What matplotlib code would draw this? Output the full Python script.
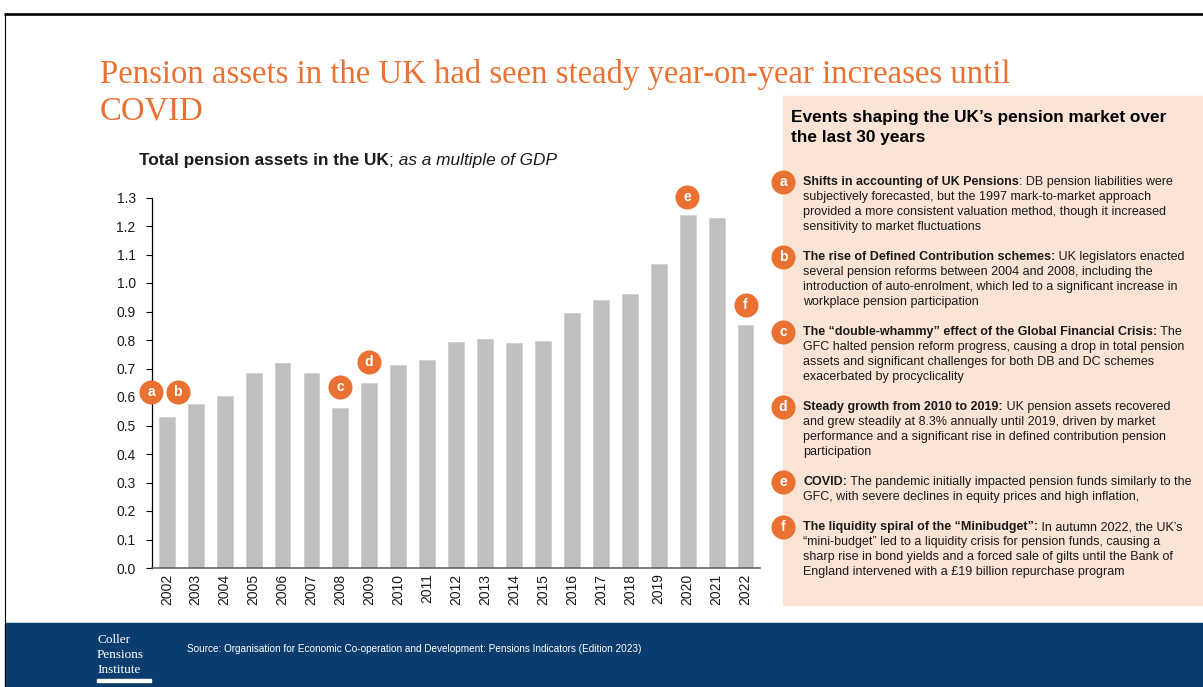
import matplotlib.pyplot as plt
from matplotlib.patches import Rectangle

# -------------------------------
# Data
# -------------------------------

years = [str(y) for y in range(2002, 2023)]
assets_gdp = [0.531, 0.576, 0.603, 0.684, 0.719, 0.685, 0.563, 0.649, 0.711, 0.731,
              0.793, 0.804, 0.790, 0.798, 0.896, 0.941, 0.961, 1.068, 1.238, 1.227, 0.851]

# event markers on the chart (letter, x position in bar units, y value)
marker_letters = ["a", "b", "c", "d", "e", "f"]
marker_x = [-0.54, 0.38, 5.98, 6.98, 17.99, 20.0]
marker_y = [0.619, 0.619, 0.634, 0.724, 1.301, 0.922]

event_titles = [
    "Shifts in accounting of UK Pensions",
    "The rise of Defined Contribution schemes:",
    "The \u201cdouble-whammy\u201d effect of the Global Financial Crisis:",
    "Steady growth from 2010 to 2019:",
    "COVID:",
    "The liquidity spiral of the \u201cMinibudget\u201d:",
]
event_lines = [
    [": DB pension liabilities were",
     "subjectively forecasted, but the 1997 mark-to-market approach",
     "provided a more consistent valuation method, though it increased",
     "sensitivity to market fluctuations"],
    [" UK legislators enacted",
     "several pension reforms between 2004 and 2008, including the",
     "introduction of auto-enrolment, which led to a significant increase in",
     "workplace pension participation"],
    [" The",
     "GFC halted pension reform progress, causing a drop in total pension",
     "assets and significant challenges for both DB and DC schemes",
     "exacerbated by procyclicality"],
    [" UK pension assets recovered",
     "and grew steadily at 8.3% annually until 2019, driven by market",
     "performance and a significant rise in defined contribution pension",
     "participation"],
    [" The pandemic initially impacted pension funds similarly to the",
     "GFC, with severe declines in equity prices and high inflation,"],
    [" In autumn 2022, the UK\u2019s",
     "\u201cmini-budget\u201d led to a liquidity crisis for pension funds, causing a",
     "sharp rise in bond yields and a forced sale of gilts until the Bank of",
     "England intervened with a \u00a319 billion repurchase program"],
]

# -------------------------------
# Style
# -------------------------------

W, H = 1203, 687
ORANGE = "#E97132"
PEACH = "#FBE3D6"
NAVY = "#0A3D6E"
BAR = "#BFBFBF"
TXT = "#1A1A1A"

plt.rcParams["font.family"] = ["Liberation Sans", "DejaVu Sans"]

fig = plt.figure(figsize=(W / 100, H / 100), dpi=100)

# background layer in pixel coordinates
bg = fig.add_axes([0, 0, 1, 1])
bg.set_xlim(0, W)
bg.set_ylim(H, 0)
bg.axis("off")

# frame lines
bg.plot([4, W], [14, 14], color="black", lw=1.9, solid_capstyle="butt")
bg.plot([4.5, 4.5], [14, H], color="black", lw=0.8)

# title
bg.text(100, 83, "Pension assets in the UK had seen steady year-on-year increases until",
        family="Liberation Serif", fontsize=23.6, color=ORANGE, va="baseline")
bg.text(100, 119, "COVID", family="Liberation Serif", fontsize=23.6, color=ORANGE,
        va="baseline")

# chart subtitle
sub = bg.text(139, 165, "Total pension assets in the UK", fontsize=12.4,
              fontweight="bold", color=TXT, va="baseline")
semi = bg.annotate(";", xy=(1, 0), xycoords=sub, fontsize=12.4, color=TXT,
                   va="bottom", ha="left")
bg.annotate(" as a multiple of GDP", xy=(1, 0), xycoords=semi, fontsize=12.4,
            style="italic", color=TXT, va="bottom", ha="left")

# -------------------------------
# Right panel : events
# -------------------------------

bg.add_patch(Rectangle((783, 96), W - 783, 605 - 96, color=PEACH, zorder=0))
bg.text(791, 122, "Events shaping the UK\u2019s pension market over", fontsize=12.4,
        fontweight="bold", color="black", va="baseline")
bg.text(791, 142, "the last 30 years", fontsize=12.4,
        fontweight="bold", color="black", va="baseline")

base = 185
for letter, title, lines in zip(marker_letters, event_titles, event_lines):
    bg.scatter([783], [base - 3], s=300, color=ORANGE, zorder=3, linewidths=0)
    bg.text(783, base - 3, letter, color="white", fontsize=10, fontweight="bold",
            ha="center", va="center", zorder=4)
    t = bg.text(803, base, title, fontsize=9, fontweight="bold", color=TXT,
                va="baseline")
    bg.annotate(lines[0], xy=(1, 0), xycoords=t, fontsize=9, color=TXT,
                va="bottom", ha="left")
    for k, line in enumerate(lines[1:], start=1):
        bg.text(803, base + 15 * k, line, fontsize=9, color=TXT, va="baseline")
    base += 15 * (len(lines) + 1)

# -------------------------------
# Footer
# -------------------------------

bg.add_patch(Rectangle((5, 623), W - 5, H - 623, color=NAVY, zorder=0))
for i, word in enumerate(["Coller", "Pensions", "Institute"]):
    bg.text(97, 643 + 15 * i, word, family="Liberation Serif", fontsize=9.5,
            color="white", va="baseline")
bg.add_patch(Rectangle((97, 679), 54, 3, color="white", zorder=1))
bg.text(187, 652, "Source: Organisation for Economic Co-operation and Development: "
        "Pensions Indicators (Edition 2023)", fontsize=7.2, color="white", va="baseline")

# -------------------------------
# Bar chart
# -------------------------------

ax = fig.add_axes([152.3 / W, 1 - 568 / H, (760 - 152.3) / W, (568 - 197.5) / H])
ax.patch.set_alpha(0)
xs = list(range(len(years)))
ax.bar(xs, assets_gdp, width=0.55, color=BAR, edgecolor="#D0D0D0", linewidth=0.6)

ax.set_xlim(-0.5, 20.5)
ax.set_ylim(0, 1.3)
ax.set_xticks(xs)
ax.set_xticklabels(years, rotation=90, fontsize=10, color=TXT)
ax.set_yticks([i / 10 for i in range(14)])
ax.set_yticklabels([f"{i / 10:.1f}" for i in range(14)], fontsize=10, color=TXT)
ax.tick_params(axis="x", length=0, pad=4)
ax.tick_params(axis="y", length=4, width=0.8, pad=8)

for side in ["top", "right"]:
    ax.spines[side].set_visible(False)
ax.spines["left"].set_color("black")
ax.spines["left"].set_linewidth(0.9)
ax.spines["bottom"].set_color("#595959")
ax.spines["bottom"].set_linewidth(1.1)

ax.scatter(marker_x, marker_y, s=300, color=ORANGE, zorder=5, clip_on=False,
           linewidths=0)
for letter, mx, my in zip(marker_letters, marker_x, marker_y):
    ax.text(mx, my, letter, color="white", fontsize=10, fontweight="bold",
            ha="center", va="center", zorder=6, clip_on=False)

fig.savefig("out.png", dpi=100)
